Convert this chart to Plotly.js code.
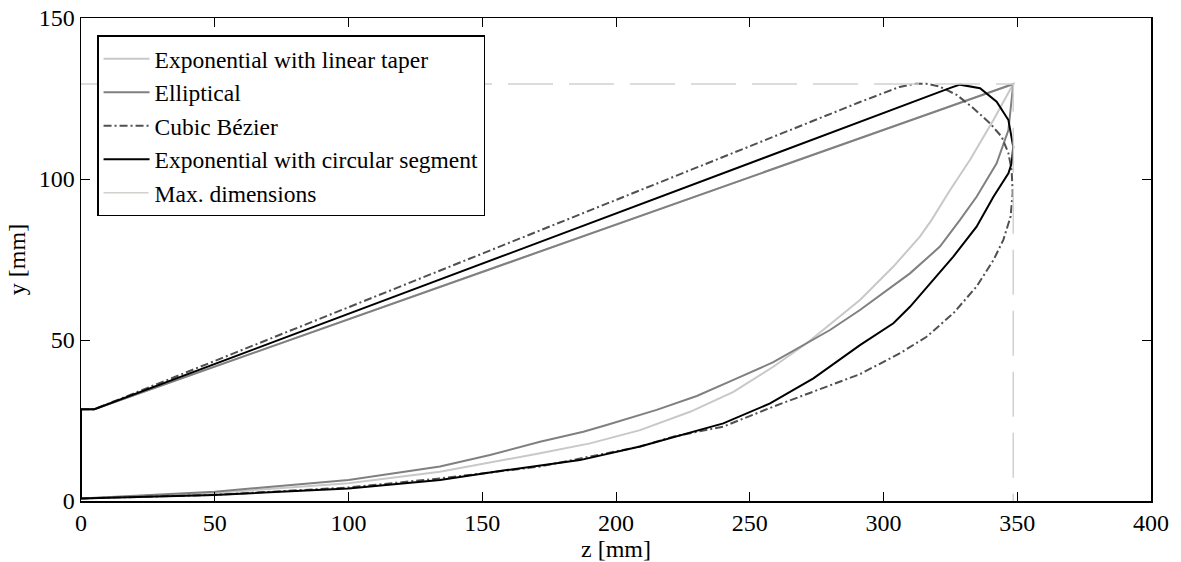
<!DOCTYPE html>
<html>
<head>
<meta charset="utf-8">
<script src="https://cdn.plot.ly/plotly-3.0.1.min.js"></script>
<style>html,body{margin:0;padding:0;background:#fff;}#chart{width:1181px;height:562px;}</style>
</head>
<body>
<div id="chart"></div>
<script>
// Exponential with linear taper
const expLinZ = [0, 5, 348.5, 341.1, 332.3, 324.9, 318, 313.6, 303.7, 291.2, 271.3, 258.8, 243.9, 227.7, 209, 190.3, 171.6, 134.2, 100, 50, 0, 0];
const expLinY = [28.5, 28.5, 129.5, 118.3, 105.9, 96.6, 87.3, 82.1, 72.8, 62.4, 49, 41.7, 33.9, 27.7, 22, 17.9, 14.8, 9.1, 5.5, 2.5, 0.8, 28.5];
// Elliptical
const ellZ = [0, 5, 348.5, 346.7, 342.3, 334.8, 328.6, 321.1, 309.9, 291.2, 280, 271.3, 258.8, 243.9, 230.2, 215.2, 204, 196.5, 187.8, 171.6, 152.9, 134.2, 100, 50, 0, 0];
const ellY = [28.5, 28.5, 129.5, 115.2, 104.9, 94.5, 87.3, 79, 70.7, 59.3, 53.1, 49, 43.1, 37.6, 32.6, 28.3, 25.4, 23.6, 21.5, 18.4, 14.3, 10.7, 6.5, 2.9, 0.8, 28.5];
// Cubic Bezier
const bezZ = [0, 5, 291.2, 300, 306, 312, 316, 321, 327.4, 333.6, 339.8, 344.2, 346.7, 347.9, 348.3, 347.5, 344.8, 341.1, 334.8, 326.1, 316.1, 306.2, 291.2, 258.8, 240.1, 221.4, 209, 171.6, 134.2, 100, 50, 0, 0];
const bezY = [28.5, 28.5, 123.9, 126.7, 128.6, 129.6, 129.6, 128.7, 126.1, 122, 117.3, 113.1, 108, 102.8, 95.6, 88.3, 81.1, 74.8, 66.6, 58.3, 51, 45.9, 39.4, 29.3, 23.1, 20, 16.9, 10.7, 7, 4.2, 1.9, 0.8, 28.5];
// Exponential with circular segment
const circZ = [0, 5, 325, 328.6, 336.1, 342.3, 346.7, 348.5, 347.9, 346.7, 341.1, 334.8, 326.1, 318.6, 309.9, 303.7, 291.2, 273.8, 257.6, 240.1, 209, 186.5, 159.1, 134.2, 100, 50, 0, 0];
const circY = [28.5, 28.5, 128.3, 129.3, 128.2, 124.0, 118.3, 110.0, 104.9, 101.8, 94.5, 85.2, 75.9, 68.6, 60.3, 55.2, 48.4, 38.1, 30.3, 24.1, 16.9, 12.7, 9.6, 6.5, 3.9, 1.9, 0.8, 28.5];
// Max. dimensions
const maxZ = [0, 348.5, 348.5];
const maxY = [129.5, 129.5, 0];

const xTicks = [0, 50, 100, 150, 200, 250, 300, 350, 400];
const yTicks = [0, 50, 100, 150];
const names = ['Exponential with linear taper', 'Elliptical', 'Cubic Bézier', 'Exponential with circular segment', 'Max. dimensions'];

const FONT = '"Liberation Serif", "Times New Roman", Times, serif';

const traces = [
  {x: expLinZ, y: expLinY, name: names[0], legendgroup: 'a', line: {color: '#c8c8c8', width: 2}},
  {x: ellZ, y: ellY, name: names[1], legendgroup: 'b', line: {color: '#808080', width: 2}},
  {x: bezZ, y: bezY, name: names[2], legendgroup: 'c', line: {color: '#505050', width: 2, dash: '8px,3px,2px,3px'}},
  {x: circZ, y: circY, name: names[3], legendgroup: 'd', line: {color: '#000000', width: 2}},
  {x: maxZ, y: maxY, name: names[4], legendgroup: 'e', line: {color: '#d4d0cc', width: 1.5, dash: '45px,16px'}}
].map(t => Object.assign({type: 'scatter', mode: 'lines', hoverinfo: 'skip'}, t));

const axisCommon = {
  showline: true, linecolor: '#000', linewidth: 1.5, mirror: 'ticks',
  ticks: 'inside', ticklen: 9, tickwidth: 1, tickcolor: '#000',
  showgrid: false, zeroline: false,
  tickfont: {family: FONT, size: 24, color: '#000'}
};

const layout = {
  width: 1181, height: 562,
  margin: {l: 81, r: 30, t: 18, b: 61},
  paper_bgcolor: '#fff', plot_bgcolor: '#fff',
  font: {family: FONT, size: 24, color: '#000'},
  showlegend: true,
  legend: {
    x: 0.015, y: 0.964, xanchor: 'left', yanchor: 'top',
    bgcolor: '#fff', bordercolor: '#000', borderwidth: 1.5,
    font: {family: FONT, size: 23.5, color: '#000'},
    itemwidth: 46,
    traceorder: 'grouped', tracegroupgap: 0
  },
  xaxis: Object.assign({}, axisCommon, {
    range: [0, 400], tickvals: xTicks, ticktext: xTicks.map(String),
    title: {text: 'z [mm]', font: {family: FONT, size: 24}, standoff: 2}
  }),
  yaxis: Object.assign({}, axisCommon, {
    range: [0, 150], tickvals: yTicks, ticktext: yTicks.map(String),
    title: {text: 'y [mm]', font: {family: FONT, size: 24}, standoff: 6}
  })
};

Plotly.newPlot('chart', traces, layout, {staticPlot: true, displayModeBar: false});
</script>
</body>
</html>
